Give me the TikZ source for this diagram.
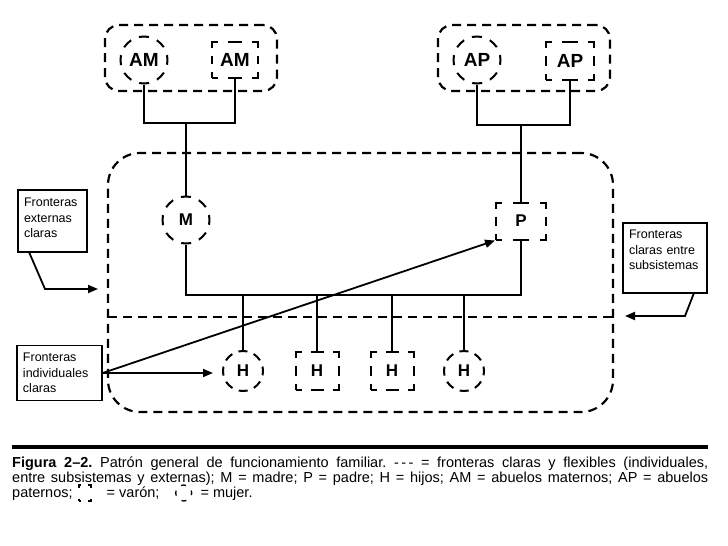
\documentclass[tikz,border=0pt]{standalone}
\usepackage{fontspec}
\setmainfont{Liberation Sans}
\usetikzlibrary{arrows.meta,positioning}

\begin{document}
\frenchspacing
\begin{tikzpicture}[x=1pt,y=-1pt,>={Triangle[length=10pt,width=8pt]},
  bound/.style={draw,line width=2.2pt,dash pattern=on 9pt off 6pt},
  female/.style={draw,circle,line width=2pt,inner sep=0pt,minimum size=47pt,
    dash pattern=on 10pt off 8.46pt,dash phase=5pt},
  male/.style={draw,rectangle,line width=2pt,inner sep=0pt},
  gen1/.style={font=\bfseries\fontsize{19}{19}\selectfont},
  gen2/.style={font=\bfseries\fontsize{17}{17}\selectfont},
  conn/.style={line width=2pt},
  arr/.style={line width=1.8pt,->},
  infobox/.style={draw,line width=1.4pt,align=left,inner xsep=6pt,inner ysep=0pt,
    font=\fontsize{12.5}{15.5}\selectfont},
  captxt/.style={inner sep=0pt,anchor=base west,font=\fontsize{14.5}{15}\selectfont}]

  \useasboundingbox (0,0) rectangle (728,546);

  % grandparents
  \node[bound,rounded corners=14pt,minimum width=172pt,minimum height=66pt] (gAM) at (191,58) {};
  \node[bound,rounded corners=14pt,minimum width=172pt,minimum height=66pt] (gAP) at (524,58) {};
  \node[female,gen1] (AMf) at (144,60) {AM};
  \node[male,gen1,minimum width=46pt,minimum height=36pt,
    dash pattern=on 12pt off 10pt on 14pt off 10pt on 12pt off 8pt on 8pt off 8pt,dash phase=6pt] (AMm) at (235,60) {AM};
  \node[female,gen1] (APf) at (477,60) {AP};
  \node[male,gen1,minimum width=48pt,minimum height=38pt,
    dash pattern=on 12pt off 10pt on 16pt off 10pt on 12pt off 8pt on 10pt off 8pt,dash phase=6pt] (APm) at (570,61) {AP};

  % family and subsystem boundaries
  \node[bound,rounded corners=32pt,minimum width=505pt,minimum height=259pt] (family) at (360.5,282.5) {};
  \draw[bound] (108,317) -- (613,317);

  % parents
  \node[female,gen2] (M) at (186,220) {M};
  \node[male,gen2,minimum width=50pt,minimum height=37pt,
    dash pattern=on 12pt off 11pt on 16pt off 11pt on 12pt off 8pt on 9pt off 8pt,dash phase=6pt] (P) at (521,221) {P};

  % children
  \node[female,gen2,minimum size=40pt,dash pattern=on 9pt off 6.71pt,dash phase=4.5pt] (H1) at (243,371) {H};
  \foreach \n/\x in {H2/317,H3/392}
    \node[male,gen2,minimum width=43pt,minimum height=38pt,
      dash pattern=on 12pt off 9pt on 13pt off 9pt on 12pt off 8pt on 10pt off 8pt,dash phase=6pt] (\n) at (\x,371) {H};
  \node[female,gen2,minimum size=40pt,dash pattern=on 9pt off 6.71pt,dash phase=4.5pt] (H4) at (464,371) {H};

  % lines of descent
  \coordinate (jAM) at (186,123);
  \coordinate (jAP) at (521,125);
  \coordinate (mL) at (186,295);
  \coordinate (mR) at (521,295);
  \draw[conn] (AMf.south) |- (jAM) -| (AMm.south);
  \draw[conn] (APf.south) |- (jAP) -| (APm.south);
  \draw[conn] (jAM) -- (M.north);
  \draw[conn] (jAP) -- (P.north);
  \draw[conn] (M.south) -- (mL) -- (mR) -- (P.south);
  \foreach \h in {H1,H2,H3,H4}
    \draw[conn] (\h.north |- mL) -- (\h.north);

  % callouts
  \node[infobox,text width=57pt,minimum height=62pt] (extBox) at (52.5,221) {Fronteras\\externas\\claras\rule[-6pt]{0pt}{0pt}};
  \node[infobox,text width=72pt,minimum height=70pt] (subBox) at (665,258) {Fronteras\\claras entre\\subsistemas\rule[-16pt]{0pt}{0pt}};
  \node[infobox,text width=73pt,minimum height=55pt] (indBox) at (59.5,373) {Fronteras\\individuales\\claras};
  \coordinate (extBend) at (45,289);
  \coordinate (extTip) at (98,289);
  \coordinate (subBend) at (685,316);
  \coordinate (subTip) at (625,316);
  \draw[arr] ([xshift=12pt]extBox.south west) -- (extBend) -- (extTip);
  \draw[arr] ([xshift=-14pt]subBox.south east) -- (subBend) -- (subTip);
  \draw[arr] (indBox.east) -- (P.south west);
  \draw[arr,shorten >=9pt] (indBox.east) -- (indBox.east -| H1.west);

  % caption
  \draw[line width=3.5pt] (12,447) -- (708,447);
  \node[captxt] (cap1) at (12,467) {\makebox[696pt][s]{\textbf{Figura 2–2.} Patrón general de funcionamiento familiar. \mbox{-\,-\,-} = fronteras claras y flexibles (individuales,}};
  \node[captxt] (cap2) at (12,482) {\makebox[696pt][s]{entre subsistemas y externas); M = madre; P = padre; H = hijos; AM = abuelos maternos; AP = abuelos}};
  \node[captxt] (cap3) at (12,497) {paternos;};
  \node[male,line width=1.3pt,minimum width=12pt,minimum height=16pt,
    dash pattern=on 5pt off 7pt on 5pt off 11pt,dash phase=2.5pt] (symM) at ([xshift=12pt,yshift=4pt]cap3.base east) {};
  \node[captxt] (capVar) at ([xshift=15pt]symM.east |- cap3.base) {= varón;};
  \node[female,line width=1.3pt,minimum size=16pt,
    dash pattern=on 5pt off 7.57pt,dash phase=2.5pt] (symF) at ([xshift=24pt,yshift=4pt]capVar.base east) {};
  \node[captxt] (capMuj) at ([xshift=8pt]symF.east |- cap3.base) {= mujer.};
\end{tikzpicture}
\end{document}
